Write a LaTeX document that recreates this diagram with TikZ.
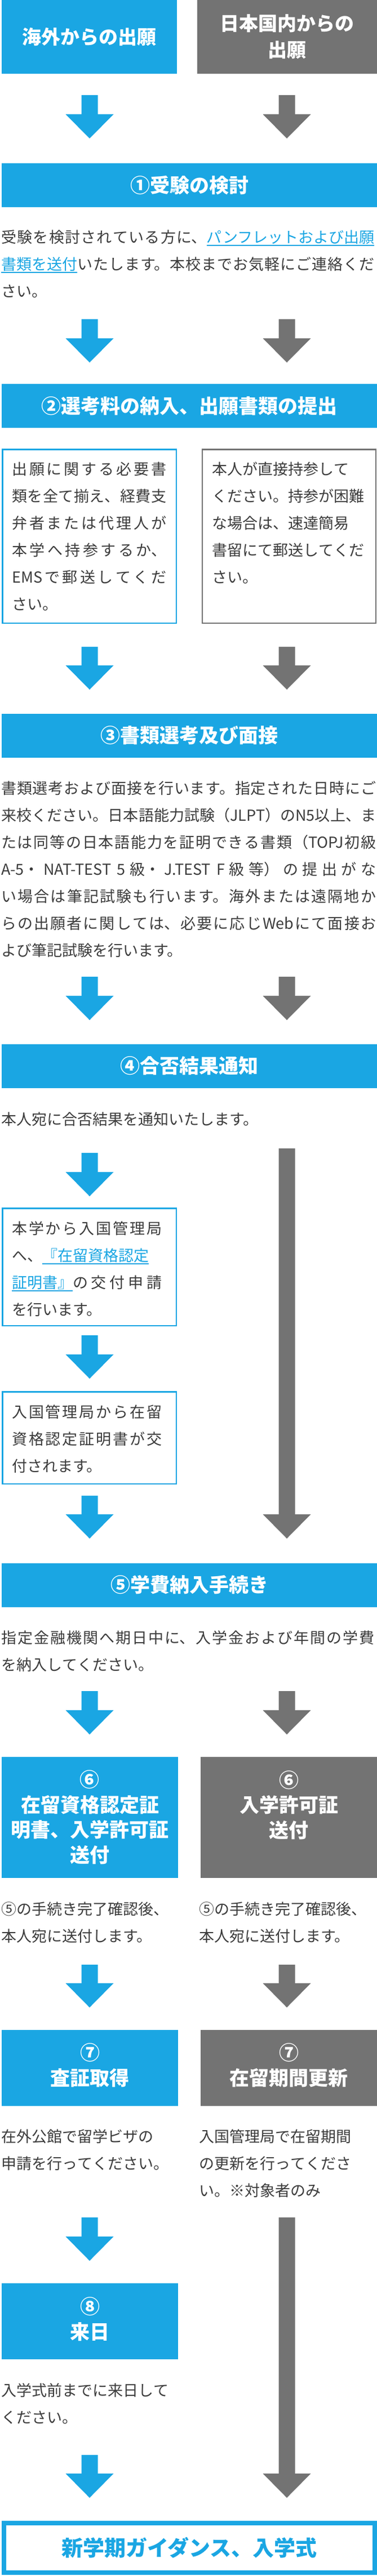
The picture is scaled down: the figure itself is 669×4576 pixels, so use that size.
\documentclass[tikz,border=0pt]{standalone}
\usepackage{fontspec}
\setmainfont{Noto Sans CJK JP}
\usetikzlibrary{calc}
\XeTeXlinebreaklocale "ja"
\XeTeXlinebreakskip=0pt plus 5pt minus 1pt
\tolerance=9999
\hbadness=10000
\hfuzz=20pt
\definecolor{cblue}{HTML}{1AA6E3}
\definecolor{cgray}{HTML}{737373}
\definecolor{ctext}{HTML}{3C3C3C}
\newcommand\bodyfnt{\fontsize{27}{48}\selectfont}
\newcommand\hdrfnt{\fontsize{35}{44.5}\selectfont\bfseries}
\newcommand\topfnt{\fontsize{34}{47}\selectfont\bfseries}
\newcommand\lnk[1]{\textcolor{cblue}{\setbox0\hbox{#1}\rlap{\rule[-6pt]{\wd0}{2pt}}\box0}}
\newcommand\blkarrow[3]{\fill[#1] let \p1=(#2), \p2=(#3) in (\x1-14.5pt,\y1) -- (\x1+14.5pt,\y1) -- (\x1+14.5pt,\y2+43pt) -- (\x1+42.5pt,\y2+43pt) -- (\x2,\y2) -- (\x1-42.5pt,\y2+43pt) -- (\x1-14.5pt,\y2+43pt) -- cycle;}
\tikzset{
  fillbox/.style={inner sep=0pt, outer sep=0pt, text=white, font=\hdrfnt, align=center},
  hdr/.style={fillbox, fill=cblue, minimum width=666pt, minimum height=78pt},
  bluebox/.style={fillbox, fill=cblue},
  graybox/.style={fillbox, fill=cgray},
  lbox/.style={draw=cblue, line width=2.5pt, inner sep=0pt, outer sep=0pt},
  gbox/.style={draw=cgray, line width=2.5pt, inner sep=0pt, outer sep=0pt},
  para/.style={anchor=base west, inner sep=0pt, text=ctext, font=\bodyfnt, align=justify},
  rag/.style={anchor=base west, inner sep=0pt, text=ctext, font=\bodyfnt, align=left},
  boxlabel/.style={inner sep=0pt, text=white, font=\hdrfnt, align=center},
}
\begin{document}
\begin{tikzpicture}[x=1pt,y=-1pt]
\useasboundingbox (0,0) rectangle (669,4576);
\fill[white] (0,0) rectangle (669,4576);
% top boxes
\node[bluebox, minimum width=311pt, minimum height=131pt, font=\topfnt] (startL) at (158.5,65.5) {海外からの出願};
\node[graybox, minimum width=319pt, minimum height=131pt, font=\topfnt] (startR) at (509.5,65.5) {日本国内からの\\出願};
% arrow coordinates
\coordinate (b1s) at (159,169); \coordinate (b1e) at (159,246);
\coordinate (g1s) at (509,169); \coordinate (g1e) at (509,246);
\coordinate (b2s) at (159,567); \coordinate (b2e) at (159,644);
\coordinate (g2s) at (509,567); \coordinate (g2e) at (509,644);
\coordinate (b3s) at (159,1149); \coordinate (b3e) at (159,1225);
\coordinate (g3s) at (509,1149); \coordinate (g3e) at (509,1225);
\coordinate (b4s) at (159,1735); \coordinate (b4e) at (159,1812);
\coordinate (g4s) at (509,1735); \coordinate (g4e) at (509,1812);
\coordinate (b5s) at (159,2048); \coordinate (b5e) at (159,2125);
\coordinate (b6s) at (159,2372); \coordinate (b6e) at (159,2449);
\coordinate (b7s) at (159,2657); \coordinate (b7e) at (159,2733);
\coordinate (g5s) at (509,2040); \coordinate (g5e) at (509,2733);
\coordinate (b8s) at (159,3004); \coordinate (b8e) at (159,3081);
\coordinate (g6s) at (509,3004); \coordinate (g6e) at (509,3081);
\coordinate (b9s) at (159,3490); \coordinate (b9e) at (159,3566);
\coordinate (g7s) at (509,3490); \coordinate (g7e) at (509,3566);
\coordinate (b10s) at (159,3939); \coordinate (b10e) at (159,4016);
\coordinate (g8s) at (509,3939); \coordinate (g8e) at (509,4437);
\coordinate (b11s) at (159,4361); \coordinate (b11e) at (159,4437);
\blkarrow{cblue}{b1s}{b1e} \blkarrow{cgray}{g1s}{g1e}
\blkarrow{cblue}{b2s}{b2e} \blkarrow{cgray}{g2s}{g2e}
\blkarrow{cblue}{b3s}{b3e} \blkarrow{cgray}{g3s}{g3e}
\blkarrow{cblue}{b4s}{b4e} \blkarrow{cgray}{g4s}{g4e}
\blkarrow{cblue}{b5s}{b5e} \blkarrow{cblue}{b6s}{b6e} \blkarrow{cblue}{b7s}{b7e}
\blkarrow{cgray}{g5s}{g5e}
\blkarrow{cblue}{b8s}{b8e} \blkarrow{cgray}{g6s}{g6e}
\blkarrow{cblue}{b9s}{b9e} \blkarrow{cgray}{g7s}{g7e}
\blkarrow{cblue}{b10s}{b10e} \blkarrow{cgray}{g8s}{g8e}
\blkarrow{cblue}{b11s}{b11e}
% step 1
\node[hdr] (h1) at (336,329) {①受験の検討};
\node[para, text width=662pt] (p1) at (2,431) {受験を検討されている方に、\lnk{パンフレットおよび出願}\linebreak\lnk{書類を送付}いたします。本校までお気軽にご連絡くだ\linebreak さい。};
% step 2
\node[hdr] (h2) at (336,721) {②選考料の納入、出願書類の提出};
\node[lbox, minimum width=308.5pt, minimum height=308.5pt] (b2L) at (158.5,952.5) {};
\node[gbox, minimum width=308pt, minimum height=308.5pt] (b2R) at (513,952.5) {};
\node[para, text width=274pt] (t2L) at (21,843) {出願に関する必要書\linebreak 類を全て揃え、経費支\linebreak 弁者または代理人が\linebreak 本学へ持参するか、\linebreak EMSで郵送してくだ\linebreak さい。};
\node[rag, text width=290pt] (t2R) at (376,843) {本人が直接持参して\newline ください。持参が困難\newline な場合は、速達簡易\newline 書留にて郵送してくだ\newline さい。};
% step 3
\node[hdr] (h3) at (336,1306.5) {③書類選考及び面接};
\node[para, text width=665pt] (p3) at (2,1410) {書類選考および面接を行います。指定された日時にご\linebreak 来校ください。日本語能力試験（JLPT）のN5以上、ま\linebreak たは同等の日本語能力を証明できる書類（TOPJ初級\linebreak A-5・NAT-TEST 5級・J.TEST F級等）の提出がな\linebreak い場合は筆記試験も行います。海外または遠隔地か\linebreak らの出願者に関しては、必要に応じWebにて面接お\linebreak よび筆記試験を行います。};
% step 4
\node[hdr] (h4) at (336,1893.5) {④合否結果通知};
\node[rag, text width=662pt] (p4) at (2,1998) {本人宛に合否結果を通知いたします。};
\node[lbox, minimum width=308.5pt, minimum height=208.5pt] (b4a) at (158.5,2250.5) {};
\node[para, text width=266pt] (t4a) at (21,2192) {本学から入国管理局\linebreak へ、\lnk{『在留資格認定}\linebreak\lnk{証明書』}の交付申請\linebreak を行います。};
\node[lbox, minimum width=308.5pt, minimum height=163.5pt] (b4b) at (158.5,2554) {};
\node[para, text width=266pt] (t4b) at (21,2518) {入国管理局から在留\linebreak 資格認定証明書が交\linebreak 付されます。};
% step 5
\node[hdr] (h5) at (336,2815.5) {⑤学費納入手続き};
\node[para, text width=662pt] (p5) at (2,2919) {指定金融機関へ期日中に、入学金および年間の学費\linebreak を納入してください。};
% step 6
\node[bluebox, minimum width=313pt, minimum height=215pt] (b6L) at (159.5,3228.5) {};
\node[boxlabel] (l6L) at (159.5,3228) {⑥\\在留資格認定証\\明書、入学許可証\\送付};
\node[graybox, minimum width=313pt, minimum height=215pt] (b6R) at (512.5,3228.5) {};
\node[boxlabel] (l6R) at (512.5,3206.5) {⑥\\入学許可証\\送付};
\node[rag, text width=310pt] (p6L) at (2,3401) {⑤の手続き完了確認後、\newline 本人宛に送付します。};
\node[rag, text width=310pt] (p6R) at (353,3401) {⑤の手続き完了確認後、\newline 本人宛に送付します。};
% step 7
\node[bluebox, minimum width=313pt, minimum height=135pt] (b7L) at (159.5,3673.5) {};
\node[boxlabel] (l7L) at (159.5,3668.5) {⑦\\査証取得};
\node[graybox, minimum width=313pt, minimum height=135pt] (b7R) at (512.5,3673.5) {};
\node[boxlabel] (l7R) at (512.5,3668.5) {⑦\\在留期間更新};
\node[rag, text width=310pt] (p7L) at (2,3805) {在外公館で留学ビザの\newline 申請を行ってください。};
\node[rag, text width=310pt] (p7R) at (353,3805) {入国管理局で在留期間\newline の更新を行ってくださ\newline い。※対象者のみ};
% step 8
\node[bluebox, minimum width=313pt, minimum height=135pt] (b8) at (159.5,4123.5) {};
\node[boxlabel] (l8) at (159.5,4119.5) {⑧\\来日};
\node[rag, text width=310pt] (p8) at (2,4256) {入学式前までに来日して\newline ください。};
% final
\node[draw=cblue, line width=8pt, inner sep=0pt, minimum width=658pt, minimum height=88pt, text=cblue, font=\fontsize{38}{44}\selectfont\bfseries] (fin) at (336,4526) {新学期ガイダンス、入学式};
\end{tikzpicture}
\end{document}
